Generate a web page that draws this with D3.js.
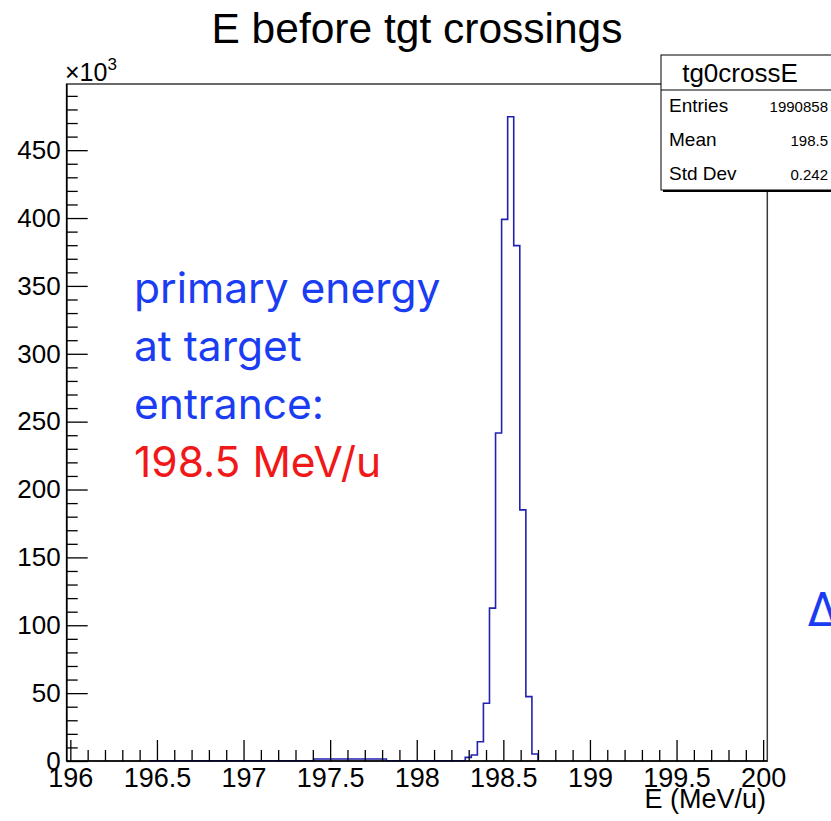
<!DOCTYPE html>
<html>
<head>
<meta charset="utf-8">
<script src="https://cdn.jsdelivr.net/npm/d3@7/dist/d3.min.js"></script>
<style>
  html, body { margin: 0; padding: 0; background: #fff; }
  svg { display: block; }
  .axis text { font-family: "Liberation Sans", Arial, sans-serif; fill: #000; }
  .axis path { display: none; }
  .axis line { stroke: #000; stroke-width: 1.3; }
</style>
</head>
<body>
<svg id="chart" width="831" height="821"></svg>
<script>
// Histogram of kinetic energy at the target entrance (variable-width bins, lower edges + final upper edge)
const binEdges  = [196.46, 197.405, 197.825, 198.28, 198.315, 198.35, 198.385, 198.42,
                   198.455, 198.49, 198.525, 198.56, 198.595, 198.63, 198.665, 198.70];
const binCounts = [150, 1500, 200, 2700, 4400, 14200, 42500, 112600,
                   241600, 399000, 474600, 379700, 185000, 47400, 5200];

const xRange      = [195.979, 200.024];
const yTop        = 498750;
const xMajorTicks = [196, 196.5, 197, 197.5, 198, 198.5, 199, 199.5, 200];
const yMajorTicks = [0, 50000, 100000, 150000, 200000, 250000, 300000, 350000, 400000, 450000];

const statsLabels = ["Entries", "Mean", "Std Dev"];
const statsValues = ["1990858", "198.5", "0.242"];

const noteLines = ["primary energy", "at target", "entrance:"];
const noteValue = "198.5 MeV/u";

const svg = d3.select("#chart");
const frame = { left: 66.7, right: 767.3, top: 84, bottom: 761 };

const x = d3.scaleLinear().domain(xRange).range([frame.left, frame.right]);
const y = d3.scaleLinear().domain([0, yTop]).range([frame.bottom, frame.top]);

// minor ticks: every 0.1 on x, every 10k on y
const xMinor = d3.range(1960, 2001, 1).map(v => v / 10).filter(v => Math.abs(v * 2 - Math.round(v * 2)) > 1e-6);
const yMinor = d3.range(0, 500000, 10000).filter(v => v % 50000 !== 0);

// frame
svg.append("rect")
  .attr("x", frame.left).attr("y", frame.top)
  .attr("width", frame.right - frame.left).attr("height", frame.bottom - frame.top)
  .attr("fill", "#fff").attr("stroke", "#3a3a3a").attr("stroke-width", 1.5);

// histogram outline
const pts = [[binEdges[0], 0]];
binCounts.forEach((c, i) => { pts.push([binEdges[i], c]); pts.push([binEdges[i + 1], c]); });
pts.push([binEdges[binEdges.length - 1], 0]);
svg.append("path")
  .attr("d", d3.line().x(d => x(d[0])).y(d => y(d[1]))(pts))
  .attr("fill", "none").attr("stroke", "#2222ae").attr("stroke-width", 1.6);

// x axis (ticks pointing into the frame)
svg.append("g").attr("class", "axis")
  .attr("transform", `translate(0,${frame.bottom})`)
  .call(d3.axisBottom(x).tickValues(xMinor).tickSize(-11).tickFormat(""));
svg.append("g").attr("class", "axis")
  .attr("transform", `translate(0,${frame.bottom})`)
  .call(d3.axisBottom(x).tickValues(xMajorTicks).tickSize(-21).tickPadding(7).tickFormat(d3.format("")))
  .selectAll("text").style("font-size", "27px");

// y axis
svg.append("g").attr("class", "axis")
  .attr("transform", `translate(${frame.left},0)`)
  .call(d3.axisLeft(y).tickValues(yMinor).tickSize(-11).tickFormat(""));
svg.append("g").attr("class", "axis")
  .attr("transform", `translate(${frame.left},0)`)
  .call(d3.axisLeft(y).tickValues(yMajorTicks).tickSize(-21).tickPadding(6).tickFormat(d => d / 1000))
  .selectAll("text").style("font-size", "26px");

// axis lines
svg.append("line").attr("x1", frame.left).attr("x2", frame.right)
  .attr("y1", frame.bottom).attr("y2", frame.bottom).attr("stroke", "#000").attr("stroke-width", 1.6);
svg.append("line").attr("x1", frame.left).attr("x2", frame.left)
  .attr("y1", frame.top).attr("y2", frame.bottom).attr("stroke", "#000").attr("stroke-width", 1.6);

const sans = "'Liberation Sans', Arial, sans-serif";

// exponent label
const expo = svg.append("text").attr("x", 65).attr("y", 81)
  .attr("font-family", sans).attr("font-size", 25).text("\u00d710");
expo.append("tspan").attr("dy", -11).attr("font-size", 17).text("3");

// axis title
svg.append("text").attr("x", 766).attr("y", 808).attr("text-anchor", "end")
  .attr("font-family", sans).attr("font-size", 27).text("E (MeV/u)");

// title
svg.append("text").attr("x", 417).attr("y", 43).attr("text-anchor", "middle")
  .attr("font-family", sans).attr("font-size", 42.5).text("E before tgt crossings");

// statistics box
const sb = { x: 661, y: 55, w: 176, h: 135, head: 35 };
svg.append("rect").attr("x", sb.x + 2).attr("y", sb.y + 2).attr("width", sb.w).attr("height", sb.h).attr("fill", "#000");
svg.append("rect").attr("x", sb.x).attr("y", sb.y).attr("width", sb.w).attr("height", sb.h)
  .attr("fill", "#fff").attr("stroke", "#000").attr("stroke-width", 1);
svg.append("line").attr("x1", sb.x).attr("x2", sb.x + sb.w)
  .attr("y1", sb.y + sb.head).attr("y2", sb.y + sb.head).attr("stroke", "#000");
svg.append("text").attr("x", 740).attr("y", 82).attr("text-anchor", "middle")
  .attr("font-family", sans).attr("font-size", 26).text("tg0crossE");
statsLabels.forEach((lab, i) => {
  const yy = 112 + i * 34;
  svg.append("text").attr("x", 669).attr("y", yy).attr("font-family", sans).attr("font-size", 19).text(lab);
  svg.append("text").attr("x", 828).attr("y", yy).attr("text-anchor", "end")
    .attr("font-family", sans).attr("font-size", 15).text(statsValues[i]);
});

// annotation
const note = "Inter, 'Open Sans', sans-serif";
noteLines.forEach((t, i) => {
  svg.append("text").attr("x", 134).attr("y", 303 + i * 58)
    .attr("font-family", note).attr("font-size", 42.5)
    .attr("fill", "#1a3cf2").text(t);
});
svg.append("text").attr("x", 134).attr("y", 303 + 3 * 58)
  .attr("font-family", note).attr("font-size", 42.5)
  .attr("fill", "#f01818").text(noteValue);

svg.append("text").attr("x", 807).attr("y", 626)
  .attr("font-family", note).attr("font-size", 46).attr("fill", "#1a3cf2").text("\u0394");
</script>
</body>
</html>
